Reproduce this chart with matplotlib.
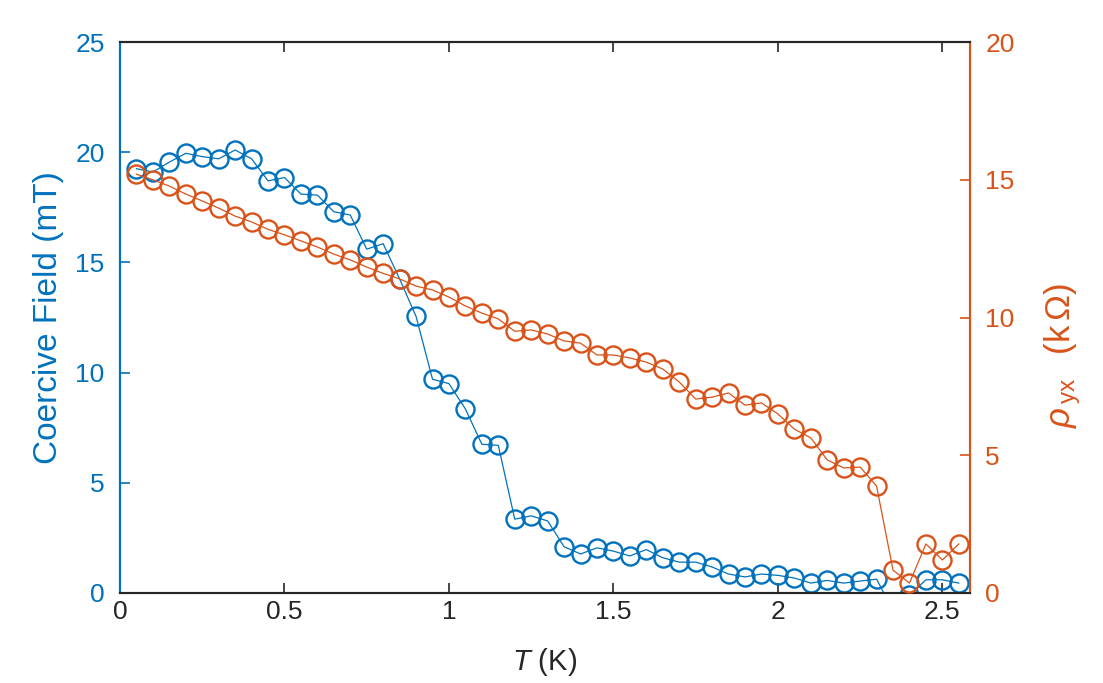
import matplotlib
matplotlib.use("Agg")
import matplotlib.pyplot as plt
import numpy as np

plt.rcParams['font.family'] = ['Liberation Sans', 'DejaVu Sans']
plt.rcParams['mathtext.fontset'] = 'custom'
plt.rcParams['mathtext.rm'] = 'Liberation Sans'
plt.rcParams['mathtext.it'] = 'Liberation Sans:italic'

temperature = [0.05, 0.10, 0.15, 0.20, 0.25, 0.30, 0.35, 0.40, 0.45, 0.50,
               0.55, 0.60, 0.65, 0.70, 0.75, 0.80, 0.85, 0.90, 0.95, 1.00,
               1.05, 1.10, 1.15, 1.20, 1.25, 1.30, 1.35, 1.40, 1.45, 1.50,
               1.55, 1.60, 1.65, 1.70, 1.75, 1.80, 1.85, 1.90, 1.95, 2.00,
               2.05, 2.10, 2.15, 2.20, 2.25, 2.30, 2.35, 2.40, 2.45, 2.50, 2.55]

coercive_field = [19.25, 19.1, 19.55, 19.95, 19.8, 19.7, 20.1, 19.7, 18.7, 18.85,
                  18.1, 18.05, 17.3, 17.15, 15.6, 15.85, 14.25, 12.55, 9.7, 9.5,
                  8.35, 6.75, 6.7, 3.35, 3.5, 3.27, 2.1, 1.77, 2.05, 1.9,
                  1.68, 1.97, 1.6, 1.4, 1.4, 1.18, 0.86, 0.73, 0.86, 0.8,
                  0.68, 0.45, 0.57, 0.45, 0.54, 0.63, -0.8, -0.1, 0.6, 0.6, 0.45]

rho_yx = [15.2, 15.0, 14.77, 14.48, 14.23, 13.97, 13.68, 13.47, 13.2, 13.0,
          12.78, 12.56, 12.3, 12.09, 11.83, 11.6, 11.4, 11.14, 11.0, 10.74,
          10.42, 10.16, 9.95, 9.5, 9.55, 9.4, 9.15, 9.07, 8.64, 8.64,
          8.53, 8.38, 8.13, 7.66, 7.04, 7.11, 7.26, 6.82, 6.9, 6.5,
          5.95, 5.63, 4.83, 4.54, 4.57, 3.88, 0.83, 0.36, 1.78, 1.2, 1.78]

blue = '#0072BD'
orange = '#D95319'
dark = '#262626'

fig = plt.figure(figsize=(11.03, 6.83), dpi=100)
ax = fig.add_axes([120/1103, 1-593/683, 850/1103, 551/683])
ax2 = ax.twinx()

ax.plot(temperature, coercive_field, '-o', color=blue, lw=0.9, ms=13,
        mfc='none', mew=1.7, zorder=3)
ax2.plot(temperature, rho_yx, '-o', color=orange, lw=0.9, ms=13,
         mfc='none', mew=1.7, zorder=3)

ax.set_xlim(0, 2.584)
ax.set_ylim(0, 25)
ax2.set_ylim(0, 20)
ax.set_xticks([0, 0.5, 1, 1.5, 2, 2.5])
ax.set_xticklabels(['0', '0.5', '1', '1.5', '2', '2.5'])
ax.set_yticks([0, 5, 10, 15, 20, 25])
ax2.set_yticks([0, 5, 10, 15, 20])

fs = 19
ax.tick_params(axis='x', direction='in', length=7, width=1.2, colors=dark,
               labelsize=fs, top=True, pad=5)
ax.tick_params(axis='y', direction='in', length=7, width=1.2, colors=blue,
               labelsize=fs, right=False, pad=11)
ax2.tick_params(axis='y', direction='in', length=7, width=1.2, colors=orange,
                labelsize=fs, pad=11)
ax2.tick_params(axis='x', top=False)

for a in (ax, ax2):
    a.spines['top'].set_color(dark)
    a.spines['bottom'].set_color(dark)
    a.spines['left'].set_color(blue)
    a.spines['right'].set_color(orange)
    for s in a.spines.values():
        s.set_linewidth(1.5)

ax.set_xlabel('$T$ (K)', fontsize=21, color=dark, labelpad=16)
ax.set_ylabel('Coercive Field (mT)', fontsize=24, color=blue, labelpad=8)
ax2.set_ylabel(r'$\rho_{\,\mathrm{yx}}\;\;\;(\mathrm{k}\,\Omega)$', fontsize=25,
               color=orange, rotation=90)
ax2.yaxis.set_label_coords(1.085, 0.43)

fig.savefig('out.png', dpi=100)
